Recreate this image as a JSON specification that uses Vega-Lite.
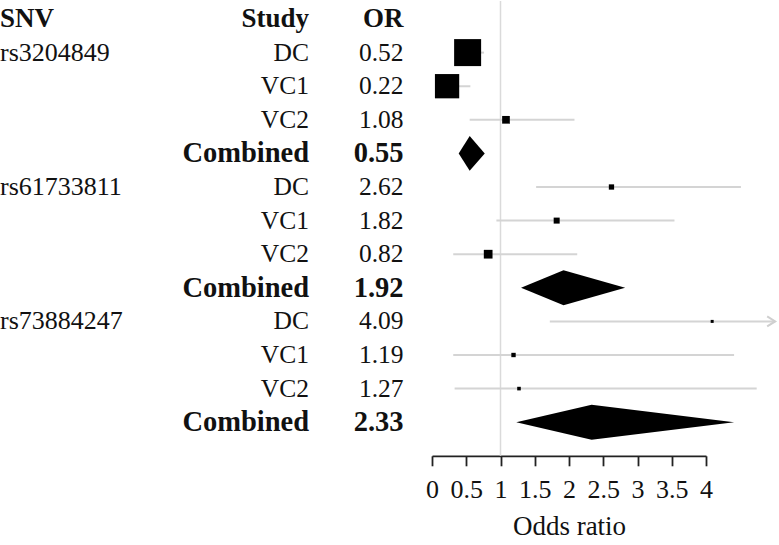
{
  "$schema": "https://vega.github.io/schema/vega-lite/v6.json",
  "padding": {"left": 0, "top": 0, "right": 0, "bottom": 0},
  "background": "white",
  "config": {"view": {"stroke": null}, "font": "Liberation Serif"},
  "datasets": {
    "studies": [
      {"row": 1, "snv": "rs3204849", "study": "DC", "est": 0.52, "lower": 0.36, "upper": 0.76, "weight": 72.9, "clipped": false},
      {"row": 2, "snv": "rs3204849", "study": "VC1", "est": 0.22, "lower": 0.09, "upper": 0.56, "weight": 59.0, "clipped": false},
      {"row": 3, "snv": "rs3204849", "study": "VC2", "est": 1.08, "lower": 0.55, "upper": 2.08, "weight": 5.9, "clipped": false},
      {"row": 4, "snv": "rs3204849", "study": "Combined", "est": 0.55, "lower": 0.39, "upper": 0.77, "weight": 0, "clipped": false},
      {"row": 5, "snv": "rs61733811", "study": "DC", "est": 2.62, "lower": 1.52, "upper": 4.51, "weight": 2.8, "clipped": false},
      {"row": 6, "snv": "rs61733811", "study": "VC1", "est": 1.82, "lower": 0.94, "upper": 3.54, "weight": 3.6, "clipped": false},
      {"row": 7, "snv": "rs61733811", "study": "VC2", "est": 0.82, "lower": 0.31, "upper": 2.12, "weight": 7.6, "clipped": false},
      {"row": 8, "snv": "rs61733811", "study": "Combined", "est": 1.92, "lower": 1.30, "upper": 2.82, "weight": 0, "clipped": false},
      {"row": 9, "snv": "rs73884247", "study": "DC", "est": 4.09, "lower": 1.72, "upper": 5.01, "weight": 0.9, "clipped": true},
      {"row": 10, "snv": "rs73884247", "study": "VC1", "est": 1.19, "lower": 0.31, "upper": 4.41, "weight": 1.9, "clipped": false},
      {"row": 11, "snv": "rs73884247", "study": "VC2", "est": 1.27, "lower": 0.33, "upper": 4.74, "weight": 1.3, "clipped": false},
      {"row": 12, "snv": "rs73884247", "study": "Combined", "est": 2.33, "lower": 1.23, "upper": 4.41, "weight": 0, "clipped": false}
    ]
  },
  "bounds": "flush",
  "spacing": 0,
  "hconcat": [
    {
      "width": 150,
      "height": 436.8,
      "data": {"name": "studies"},
      "layer": [
        {
          "data": {"values": [{"row": 0, "label": "SNV"}]},
          "mark": {"type": "text", "align": "left", "baseline": "middle", "fontSize": 27, "fontWeight": "bold", "font": "Liberation Serif", "color": "#111"},
          "encoding": {
            "x": {"datum": 0, "type": "quantitative", "scale": {"domain": [0, 1], "nice": false, "zero": false}, "axis": null},
            "y": {"field": "row", "type": "quantitative", "scale": {"domain": [0, 13], "reverse": true, "nice": false, "zero": false}, "axis": null},
            "text": {"field": "label"}
          }
        },
        {
          "transform": [{"filter": "datum.study === 'DC'"}],
          "mark": {"type": "text", "align": "left", "baseline": "middle", "fontSize": 26, "font": "Liberation Serif", "color": "#111"},
          "encoding": {
            "x": {"datum": 0, "type": "quantitative", "scale": {"domain": [0, 1], "nice": false, "zero": false}, "axis": null},
            "y": {"field": "row", "type": "quantitative", "scale": {"domain": [0, 13], "reverse": true, "nice": false, "zero": false}, "axis": null},
            "text": {"field": "snv"}
          }
        }
      ]
    },
    {
      "width": 159,
      "height": 436.8,
      "data": {"name": "studies"},
      "layer": [
        {
          "data": {"values": [{"row": 0, "label": "Study"}]},
          "mark": {"type": "text", "align": "right", "baseline": "middle", "fontSize": 27, "fontWeight": "bold", "font": "Liberation Serif", "color": "#111"},
          "encoding": {
            "x": {"datum": 1, "type": "quantitative", "scale": {"domain": [0, 1], "nice": false, "zero": false}, "axis": null},
            "y": {"field": "row", "type": "quantitative", "scale": {"domain": [0, 13], "reverse": true, "nice": false, "zero": false}, "axis": null},
            "text": {"field": "label"}
          }
        },
        {
          "transform": [{"filter": "datum.study !== 'Combined'"}],
          "mark": {"type": "text", "align": "right", "baseline": "middle", "fontSize": 25.5, "font": "Liberation Serif", "color": "#111"},
          "encoding": {
            "x": {"datum": 1, "type": "quantitative", "scale": {"domain": [0, 1], "nice": false, "zero": false}, "axis": null},
            "y": {"field": "row", "type": "quantitative", "scale": {"domain": [0, 13], "reverse": true, "nice": false, "zero": false}, "axis": null},
            "text": {"field": "study"}
          }
        },
        {
          "transform": [{"filter": "datum.study === 'Combined'"}],
          "mark": {"type": "text", "align": "right", "baseline": "middle", "fontSize": 28.5, "fontWeight": "bold", "font": "Liberation Serif", "color": "#111"},
          "encoding": {
            "x": {"datum": 1, "type": "quantitative", "scale": {"domain": [0, 1], "nice": false, "zero": false}, "axis": null},
            "y": {"field": "row", "type": "quantitative", "scale": {"domain": [0, 13], "reverse": true, "nice": false, "zero": false}, "axis": null},
            "text": {"field": "study"}
          }
        }
      ]
    },
    {
      "width": 122.5,
      "height": 436.8,
      "data": {"name": "studies"},
      "layer": [
        {
          "data": {"values": [{"row": 0, "label": "OR"}]},
          "mark": {"type": "text", "align": "right", "baseline": "middle", "dx": -28, "fontSize": 27, "fontWeight": "bold", "font": "Liberation Serif", "color": "#111"},
          "encoding": {
            "x": {"datum": 1, "type": "quantitative", "scale": {"domain": [0, 1], "nice": false, "zero": false}, "axis": null},
            "y": {"field": "row", "type": "quantitative", "scale": {"domain": [0, 13], "reverse": true, "nice": false, "zero": false}, "axis": null},
            "text": {"field": "label"}
          }
        },
        {
          "transform": [{"filter": "datum.study !== 'Combined'"}],
          "mark": {"type": "text", "align": "right", "baseline": "middle", "dx": -28, "fontSize": 25.5, "font": "Liberation Serif", "color": "#111"},
          "encoding": {
            "x": {"datum": 1, "type": "quantitative", "scale": {"domain": [0, 1], "nice": false, "zero": false}, "axis": null},
            "y": {"field": "row", "type": "quantitative", "scale": {"domain": [0, 13], "reverse": true, "nice": false, "zero": false}, "axis": null},
            "text": {"field": "est", "type": "quantitative", "format": ".2f"}
          }
        },
        {
          "transform": [{"filter": "datum.study === 'Combined'"}],
          "mark": {"type": "text", "align": "right", "baseline": "middle", "dx": -28, "fontSize": 28.5, "fontWeight": "bold", "font": "Liberation Serif", "color": "#111"},
          "encoding": {
            "x": {"datum": 1, "type": "quantitative", "scale": {"domain": [0, 1], "nice": false, "zero": false}, "axis": null},
            "y": {"field": "row", "type": "quantitative", "scale": {"domain": [0, 13], "reverse": true, "nice": false, "zero": false}, "axis": null},
            "text": {"field": "est", "type": "quantitative", "format": ".2f"}
          }
        }
      ]
    },
    {
      "width": 274,
      "height": 436.8,
      "data": {"name": "studies"},
      "layer": [
        {
          "data": {"values": [{"ref": 1}]},
          "mark": {"type": "rule", "color": "#dadada", "strokeWidth": 1.5},
          "encoding": {
            "x": {
              "field": "ref", "type": "quantitative",
              "scale": {"domain": [0, 4], "nice": false, "zero": false},
              "axis": {
                "title": "Odds ratio",
                "values": [0, 0.5, 1, 1.5, 2, 2.5, 3, 3.5, 4],
                "tickCount": 12,
                "format": "~g",
                "grid": false,
                "domainColor": "#222", "domainWidth": 1.8,
                "tickColor": "#222", "tickWidth": 1.8, "tickSize": 10,
                "labelFont": "Liberation Serif", "labelFontSize": 26, "labelColor": "#111",
                "labelPadding": 11, "labelFlush": false, "labelOverlap": false, "labelSeparation": 0,
                "titleFont": "Liberation Serif", "titleFontSize": 27, "titleFontWeight": "normal", "titleColor": "#111",
                "titlePadding": 11
              }
            },
            "y": {"datum": -0.536, "type": "quantitative", "scale": {"domain": [0, 13], "reverse": true, "nice": false, "zero": false}, "axis": null},
            "y2": {"datum": 13}
          }
        },
        {
          "transform": [{"filter": "datum.study !== 'Combined'"}],
          "mark": {"type": "rule", "color": "#d4d4d4", "strokeWidth": 2},
          "encoding": {
            "x": {"field": "lower", "type": "quantitative"},
            "x2": {"field": "upper"},
            "y": {"field": "row", "type": "quantitative"}
          }
        },
        {
          "transform": [{"filter": "datum.clipped"}],
          "mark": {"type": "point", "shape": "M-1.6,-1L0,0L-1.6,1", "filled": false, "stroke": "#cfcfcf", "strokeWidth": 2, "size": 100, "opacity": 1},
          "encoding": {
            "x": {"field": "upper", "type": "quantitative"},
            "y": {"field": "row", "type": "quantitative"}
          }
        },
        {
          "transform": [{"filter": "datum.study !== 'Combined'"}],
          "mark": {"type": "point", "shape": "square", "filled": true, "color": "#000", "opacity": 1},
          "encoding": {
            "x": {"field": "est", "type": "quantitative"},
            "y": {"field": "row", "type": "quantitative"},
            "size": {"field": "weight", "type": "quantitative", "scale": {"domain": [0, 100], "range": [0, 1000]}, "legend": null}
          }
        },
        {
          "transform": [
            {"filter": "datum.study === 'Combined'"},
            {"fold": ["lower", "est", "upper"], "as": ["k", "xv"]},
            {"calculate": "datum.k === 'est' ? datum.row - 0.52 : datum.row", "as": "ytop"},
            {"calculate": "datum.k === 'est' ? datum.row + 0.52 : datum.row", "as": "ybot"}
          ],
          "mark": {"type": "area", "color": "#000", "opacity": 1},
          "encoding": {
            "x": {"field": "xv", "type": "quantitative"},
            "y": {"field": "ytop", "type": "quantitative"},
            "y2": {"field": "ybot"},
            "detail": {"field": "snv"}
          }
        }
      ]
    }
  ]
}
